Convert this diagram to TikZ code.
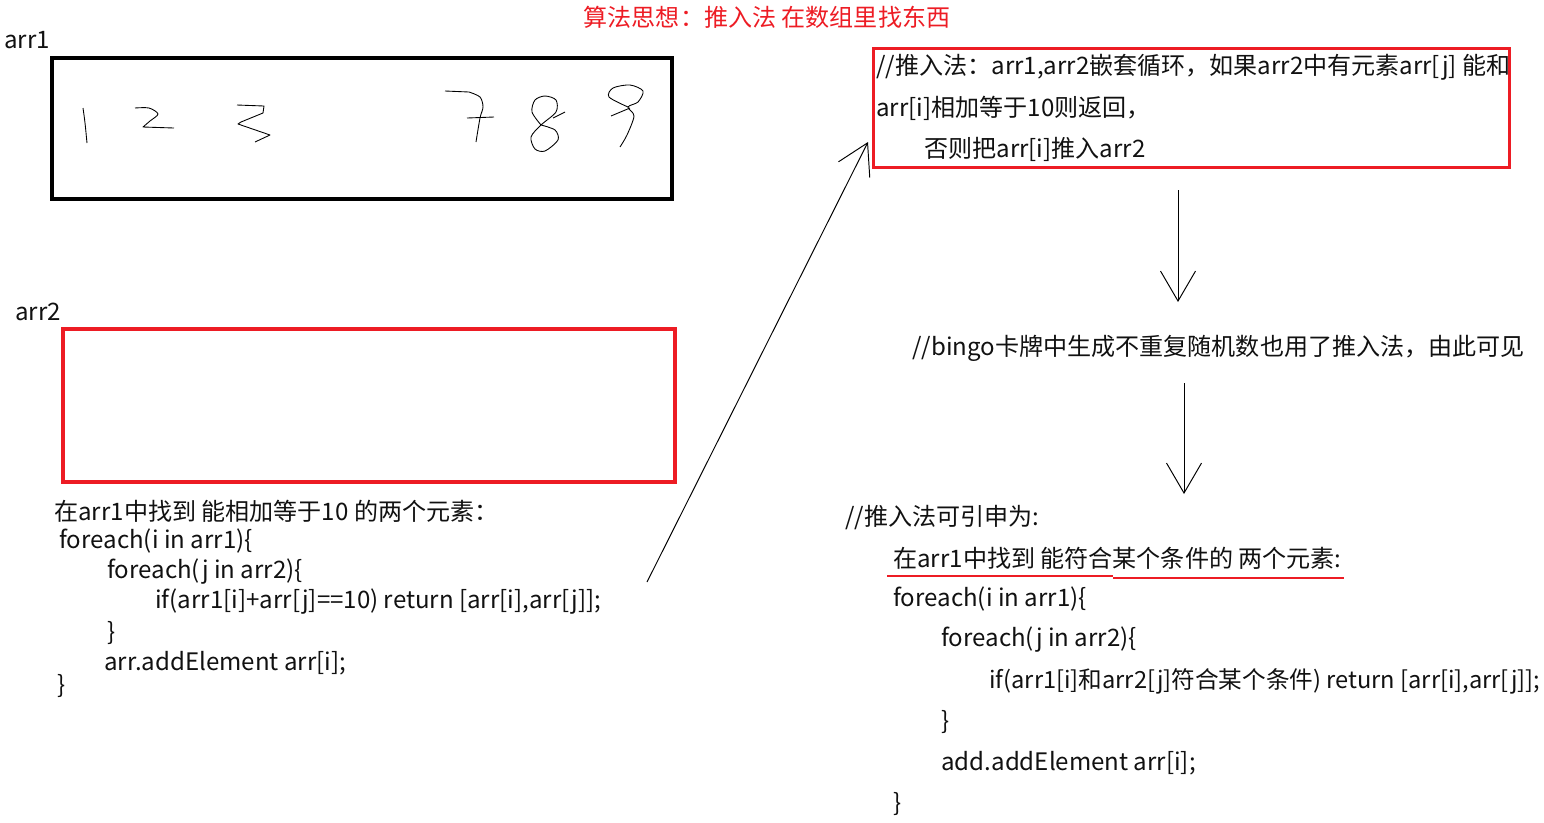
\documentclass[tikz,border=0pt]{standalone}
\usepackage{fontspec}
\setmainfont{Noto Sans CJK SC}
\usetikzlibrary{arrows.meta, positioning}
\definecolor{pntred}{HTML}{ED1C24}
\definecolor{pntink}{HTML}{111111}
\tikzset{
  codeln/.style={anchor=west, inner sep=0pt, text=pntink, font=\fontsize{13.7}{16}\selectfont},
  arrbox/.style={rectangle, draw=black, line width=0.08cm, anchor=north west, inner sep=0pt},
  redbox/.style={rectangle, draw=pntred, line width=0.08cm, anchor=north west, inner sep=0pt},
  rulebox/.style={rectangle, draw=pntred, line width=0.06cm, anchor=north west, inner sep=0pt},
  hand/.style={line width=0.5pt, black, line join=round},
  pusharr/.style={-{Straight Barb[length=6mm, width=7mm]}, line width=0.55pt, black},
}

\begin{document}
\begin{tikzpicture}[x=0.02cm, y=-0.02cm]
    \useasboundingbox (0,0) rectangle (1544,822);

    % title
    \node[codeln, anchor=center, text=pntred] (title) at (767,17) {算法思想：推入法 在数组里找东西};

    % arr1 with handwritten numbers
    \node[codeln] (arr1lbl) at (4,40) {arr1};
    \node[arrbox, minimum width=12.4cm, minimum height=2.82cm] (arr1box) at (50,56) {};
    \draw[hand] (83,108) .. controls (85,122) .. (87,143);
    \draw[hand] plot[smooth] coordinates {(135,108) (149,108) (158,114) (150,121) (143,127)} -- (174,128);
    \draw[hand] (237,105) -- (264,106) -- (263,113) -- (241,122) -- (238,124) -- (270,135) -- (255,142);
    \draw[hand] (445,91) -- (469,92) plot[smooth] coordinates {(469,92) (480,97) (483,107) (480,118) (476,142)};
    \draw[hand] (467,118) -- (494,117);
    \draw[hand] plot[smooth] coordinates {(541,125) (532,112) (535,100) (545,96) (556,100) (556,112) (541,125) (531,137) (535,149) (545,151) (558,140) (555,130) (541,125)};
    \draw[hand] (553,118) -- (565,112);
    \draw[hand] plot[smooth] coordinates {(628,107) (609,97) (613,88) (630,85) (643,91) (638,102) (628,107) (634,116) (627,135) (620,147)};
    \draw[hand] (611,116) -- (630,108);

    % arr2
    \node[codeln] (arr2lbl) at (15,312) {arr2};
    \node[redbox, minimum width=12.24cm, minimum height=3.06cm] (arr2box) at (61,327) {};

    % sum-to-10 code
    \node[codeln] (sumhead) at (54,511) {在arr1中找到 能相加等于10 的两个元素：};
    \node[codeln] (sumfor1) at (59,541) {foreach(i in arr1)\{};
    \node[codeln] (sumfor2) at (107,572) {foreach(j in arr2)\{};
    \node[codeln] (sumif) at (155,602) {if(arr1[i]+arr[j]==10) return [arr[i],arr[j]];};
    \node[codeln] (sumend2) at (107,633) {\}};
    \node[codeln] (sumadd) at (104,663) {arr.addElement arr[i];};
    \node[codeln] (sumend1) at (57,686) {\}};

    % push method rule
    \node[rulebox, minimum width=12.72cm, minimum height=2.38cm] (rulebox) at (872,47) {};
    \node[codeln] (rule1) at (876,67) {//推入法：arr1,arr2嵌套循环，如果arr2中有元素arr[j] 能和};
    \node[codeln] (rule2) at (876,108) {arr[i]相加等于10则返回，};
    \node[codeln] (rule3) at (924,149) {否则把arr[i]推入arr2};

    \coordinate (pushfrom) at (647,582);
    \coordinate (pushto) at (868,142);
    \draw[pusharr] (pushfrom) -- (pushto);

    % bingo note
    \coordinate (down1a) at (1178,190);
    \coordinate (down1b) at (1178,302);
    \draw[pusharr] (down1a) -- (down1b);
    \node[codeln] (bingo) at (912,348) {//bingo卡牌中生成不重复随机数也用了推入法，由此可见};
    \coordinate (down2a) at (1184,383);
    \coordinate (down2b) at (1184,494);
    \draw[pusharr] (down2a) -- (down2b);

    % general form
    \node[codeln] (gen0) at (845,518) {//推入法可引申为:};
    \node[codeln] (gen1) at (893,558) {在arr1中找到 能符合某个条件的 两个元素:};
    \draw[pntred, line width=0.04cm] (887,576) -- (1113,576);
    \draw[pntred, line width=0.04cm] (1113,578) -- (1344,578);
    \node[codeln] (gen2) at (893,599) {foreach(i in arr1)\{};
    \node[codeln] (gen3) at (941,640) {foreach(j in arr2)\{};
    \node[codeln, font=\fontsize{13.45}{16}\selectfont] (gen4) at (989,681) {if(arr1[i]和arr2[j]符合某个条件) return [arr[i],arr[j]];};
    \node[codeln] (gen5) at (941,722) {\}};
    \node[codeln] (gen6) at (941,763) {add.addElement arr[i];};
    \node[codeln] (gen7) at (893,804) {\}};
  \end{tikzpicture}
\end{document}
